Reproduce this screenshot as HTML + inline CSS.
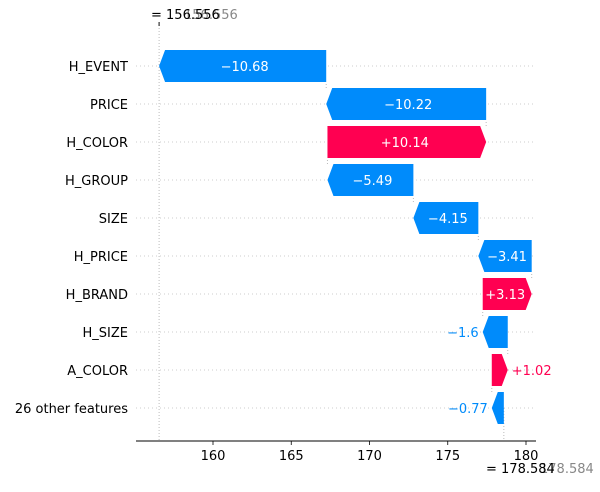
<!DOCTYPE html>
<html><head><meta charset="utf-8">
<style>
body{margin:0;background:#fff;}
svg text{font-family:"DejaVu Sans","Liberation Sans",sans-serif;}
</style></head>
<body>
<svg id="chart" width="600" height="487" viewBox="0 0 600 487" xmlns="http://www.w3.org/2000/svg"></svg>
<script>
const features = ["H_EVENT","PRICE","H_COLOR","H_GROUP","SIZE","H_PRICE","H_BRAND","H_SIZE","A_COLOR","26 other features"];
const shapValues = [-10.68,-10.22,10.14,-5.49,-4.15,-3.41,3.13,-1.6,1.02,-0.77];
const valueLabels = ["\u221210.68","\u221210.22","+10.14","\u22125.49","\u22124.15","\u22123.41","+3.13","\u22121.6","+1.02","\u22120.77"];
const baseValue = 178.584;
const fxValue = 156.556;
const xTicks = [160,165,170,175,180];

const NS="http://www.w3.org/2000/svg";
const svg=document.getElementById('chart');
const X=v=>213+(v-160)*15.65;
const Y=i=>66+i*38;
const BH=32, HEAD=6;
function mk(tag,attrs,parent){const e=document.createElementNS(NS,tag);for(const k in attrs)e.setAttribute(k,attrs[k]);(parent||svg).appendChild(e);return e;}

features.forEach((f,i)=>{
  const g=mk('line',{x1:136,x2:536,y1:Y(i),y2:Y(i),stroke:'#ccc','stroke-width':1,'stroke-dasharray':'1,3'});
  
  
});
const vl1=mk('line',{x1:X(fxValue),x2:X(fxValue),y1:22,y2:441,stroke:'#bbb','stroke-width':1,'stroke-dasharray':'1,2'});


const vl2=mk('line',{x1:X(baseValue),x2:X(baseValue),y1:Y(features.length-1),y2:441,stroke:'#bbb','stroke-width':1,'stroke-dasharray':'1,2'});


mk('line',{x1:X(fxValue),x2:X(fxValue),y1:22,y2:26,stroke:'#333','stroke-width':1.2});

let cum=baseValue;
const starts=[];
for(let i=features.length-1;i>=0;i--){starts[i]=cum;cum+=shapValues[i];}
features.forEach((f,i)=>{
  const s=starts[i], e=s+shapValues[i], y=Y(i);
  const x0=X(Math.min(s,e)), x1=X(Math.max(s,e));
  const neg=shapValues[i]<0;
  const col=neg?'#008bfb':'#ff0051';
  const h=Math.min(HEAD,x1-x0);
  let pts;
  if(neg) pts=[[x0,y],[x0+h,y-BH/2],[x1,y-BH/2],[x1,y+BH/2],[x0+h,y+BH/2]];
  else pts=[[x0,y-BH/2],[x1-h,y-BH/2],[x1,y],[x1-h,y+BH/2],[x0,y+BH/2]];
  const p=mk('polygon',{points:pts.map(q=>q.join(',')).join(' '),fill:col});
  
  
  if(i>0){mk('line',{x1:X(e),x2:X(e),y1:y-BH/2,y2:Y(i-1)+BH/2,stroke:'#bbb','stroke-width':1,'stroke-dasharray':'1,2'});}
  const lbl=valueLabels[i];
  const w=x1-x0;
  let t;
  if(w>40){t=mk('text',{x:(x0+x1)/2+(neg?2:-2),y:y+5,'text-anchor':'middle','font-size':13,fill:'#fff'});}
  else if(neg){t=mk('text',{x:x0-4,y:y+5,'text-anchor':'end','font-size':13,fill:col});}
  else{t=mk('text',{x:x1+4,y:y+5,'text-anchor':'start','font-size':13,fill:col});}
  t.textContent=lbl;
  
  
  const fl=mk('text',{x:128,y:y+5,'text-anchor':'end','font-size':13,fill:'#000'});
  fl.textContent=f;
  
  
});

const ax=mk('line',{x1:136,x2:536,y1:441,y2:441,stroke:'#000','stroke-width':1});


xTicks.forEach(v=>{
  mk('line',{x1:X(v),x2:X(v),y1:441,y2:445,stroke:'#000','stroke-width':0.8});
  const t=mk('text',{x:X(v),y:460,'text-anchor':'middle','font-size':13,fill:'#000'});
  t.textContent=v;
  
  
});
const t1=mk('text',{x:184,y:19,'font-size':13,fill:'#888'});t1.textContent=fxValue.toFixed(3);


const t2=mk('text',{x:151,y:19,'font-size':13,fill:'#000'});t2.textContent='= '+fxValue.toFixed(3);


const t3=mk('text',{x:540,y:473,'font-size':13,fill:'#888'});t3.textContent=baseValue.toFixed(3);


const t4=mk('text',{x:486,y:473,'font-size':13,fill:'#000'});t4.textContent='= '+baseValue.toFixed(3);


</script>
</body></html>
